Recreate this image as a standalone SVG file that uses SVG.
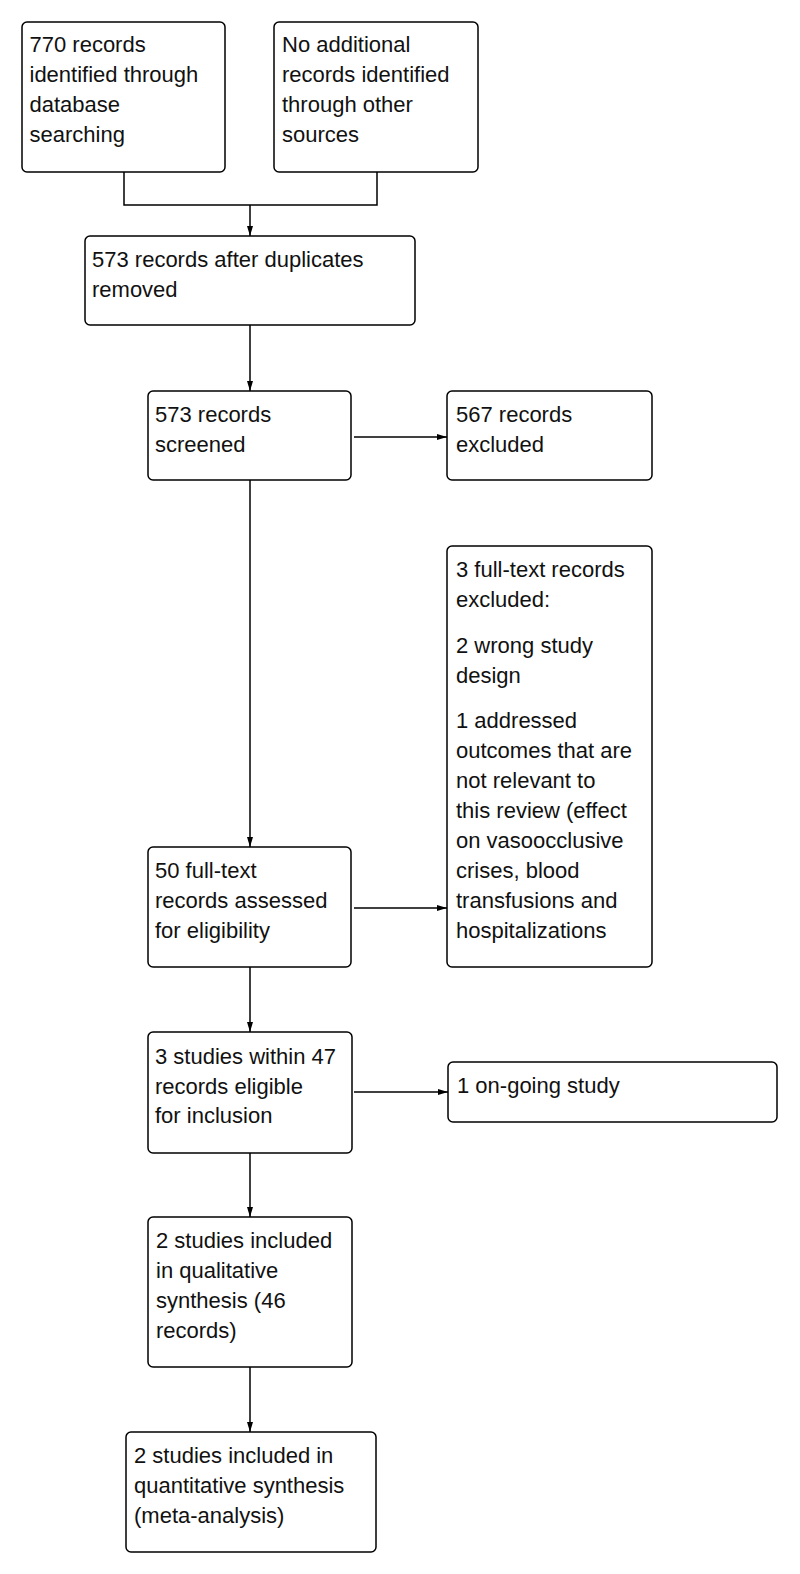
<svg xmlns="http://www.w3.org/2000/svg" width="800" height="1574" viewBox="0 0 800 1574">
<style>
.box{fill:#fff;stroke:#000;stroke-width:1.5}
.t{font-family:"Liberation Sans",Arial,sans-serif;font-size:22px;fill:#111}
.c{fill:none;stroke:#000;stroke-width:1.5}
</style>
<defs>
<marker id="ah" markerUnits="userSpaceOnUse" markerWidth="12" markerHeight="8" refX="10" refY="3.5" orient="auto">
<path d="M0,0.5 L10,3.5 L0,6.5 z" fill="#000"/>
</marker>
</defs>
<rect width="800" height="1574" fill="#fff"/>
<g id="connectors">
<path class="c" d="M124,172 V205 H377 V172"/>
<path class="c" d="M250,205 V236" marker-end="url(#ah)"/>
<path class="c" d="M250,325 V391" marker-end="url(#ah)"/>
<path class="c" d="M354,437 H447" marker-end="url(#ah)"/>
<path class="c" d="M250,480 V847" marker-end="url(#ah)"/>
<path class="c" d="M354,908 H447" marker-end="url(#ah)"/>
<path class="c" d="M250,967 V1032" marker-end="url(#ah)"/>
<path class="c" d="M354,1092 H448" marker-end="url(#ah)"/>
<path class="c" d="M250,1153 V1217" marker-end="url(#ah)"/>
<path class="c" d="M250,1367 V1432" marker-end="url(#ah)"/>
</g>
<g id="n1">
<rect class="box" x="22" y="22" width="203" height="150" rx="5"/>
<text class="t" x="29.5" y="52">770 records</text>
<text class="t" x="29.5" y="82">identified through</text>
<text class="t" x="29.5" y="112">database</text>
<text class="t" x="29.5" y="142">searching</text>
</g>
<g id="n2">
<rect class="box" x="274" y="22" width="204" height="150" rx="5"/>
<text class="t" x="282" y="52">No additional</text>
<text class="t" x="282" y="82">records identified</text>
<text class="t" x="282" y="112">through other</text>
<text class="t" x="282" y="142">sources</text>
</g>
<g id="n3">
<rect class="box" x="85" y="236" width="330" height="89" rx="5"/>
<text class="t" x="92" y="267">573 records after duplicates</text>
<text class="t" x="92" y="297">removed</text>
</g>
<g id="n4">
<rect class="box" x="148" y="391" width="203" height="89" rx="5"/>
<text class="t" x="155" y="422">573 records</text>
<text class="t" x="155" y="452">screened</text>
</g>
<g id="n5">
<rect class="box" x="447" y="391" width="205" height="89" rx="5"/>
<text class="t" x="456" y="422">567 records</text>
<text class="t" x="456" y="452">excluded</text>
</g>
<g id="n6">
<rect class="box" x="447" y="546" width="205" height="421" rx="5"/>
<text class="t" x="456" y="577">3 full-text records</text>
<text class="t" x="456" y="607">excluded:</text>
<text class="t" x="456" y="653">2 wrong study</text>
<text class="t" x="456" y="683">design</text>
<text class="t" x="456" y="728">1 addressed</text>
<text class="t" x="456" y="758">outcomes that are</text>
<text class="t" x="456" y="788">not relevant to</text>
<text class="t" x="456" y="818">this review (effect</text>
<text class="t" x="456" y="848">on vasoocclusive</text>
<text class="t" x="456" y="878">crises, blood</text>
<text class="t" x="456" y="908">transfusions and</text>
<text class="t" x="456" y="938">hospitalizations</text>
</g>
<g id="n7">
<rect class="box" x="148" y="847" width="203" height="120" rx="5"/>
<text class="t" x="155" y="878">50 full-text</text>
<text class="t" x="155" y="908">records assessed</text>
<text class="t" x="155" y="938">for eligibility</text>
</g>
<g id="n8">
<rect class="box" x="148" y="1032" width="204" height="121" rx="5"/>
<text class="t" x="155" y="1064">3 studies within 47</text>
<text class="t" x="155" y="1094">records eligible</text>
<text class="t" x="155" y="1123">for inclusion</text>
</g>
<g id="n9">
<rect class="box" x="448" y="1062" width="329" height="60" rx="5"/>
<text class="t" x="457" y="1093">1 on-going study</text>
</g>
<g id="n10">
<rect class="box" x="148" y="1217" width="204" height="150" rx="5"/>
<text class="t" x="156" y="1248">2 studies included</text>
<text class="t" x="156" y="1278">in qualitative</text>
<text class="t" x="156" y="1308">synthesis (46</text>
<text class="t" x="156" y="1338">records)</text>
</g>
<g id="n11">
<rect class="box" x="126" y="1432" width="250" height="120" rx="5"/>
<text class="t" x="134" y="1463">2 studies included in</text>
<text class="t" x="134" y="1493">quantitative synthesis</text>
<text class="t" x="134" y="1523">(meta-analysis)</text>
</g>
</svg>
